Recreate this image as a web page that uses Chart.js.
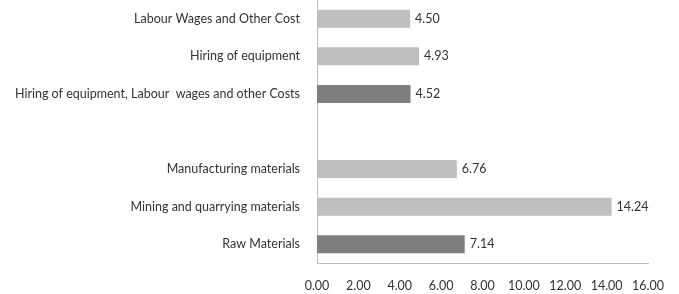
<!DOCTYPE html>
<html>
<head>
<meta charset="utf-8">
<script src="https://cdn.jsdelivr.net/npm/chart.js@4"></script>
<style>
  html, body { margin: 0; padding: 0; background: #fff; }
  #wrap { width: 679px; height: 294px; position: relative; }
</style>
</head>
<body>
<div id="wrap"><canvas id="c"></canvas></div>
<script>
const categories = [
  "Labour Wages and Other Cost",
  "Hiring of equipment",
  "Hiring of equipment, Labour  wages and other Costs",
  "",
  "Manufacturing materials",
  "Mining and quarrying materials",
  "Raw Materials"
];
const values = [4.50, 4.93, 4.52, null, 6.76, 14.24, 7.14];
const barColors = ["#bfbfbf", "#bfbfbf", "#7f7f7f", "#bfbfbf", "#bfbfbf", "#bfbfbf", "#7f7f7f"];
const xTicks = [0, 2, 4, 6, 8, 10, 12, 14, 16];

const valueLabels = {
  id: 'valueLabels',
  afterDatasetsDraw(chart) {
    const ctx = chart.ctx;
    const meta = chart.getDatasetMeta(0);
    ctx.save();
    ctx.font = '12.5px Lato';
    ctx.fillStyle = '#333333';
    ctx.textAlign = 'left';
    ctx.textBaseline = 'middle';
    meta.data.forEach((bar, i) => {
      if (values[i] == null) return;
      ctx.fillText(values[i].toFixed(2), bar.x + 5, bar.y);
    });
    ctx.restore();
  }
};

new Chart(document.getElementById('c'), {
  type: 'bar',
  data: {
    labels: categories,
    datasets: [{
      data: values,
      backgroundColor: barColors,
      borderWidth: 0,
      barPercentage: 0.48,
      categoryPercentage: 1.0
    }]
  },
  options: {
    indexAxis: 'y',
    responsive: true,
    maintainAspectRatio: false,
    animation: false,
    layout: { padding: { top: -2, right: 31, bottom: 0, left: 0 } },
    plugins: { legend: { display: false }, tooltip: { enabled: false } },
    scales: {
      x: {
        min: 0, max: 16,
        afterBuildTicks(scale) { scale.ticks = xTicks.map(v => ({ value: v })); },
        afterFit(scale) { scale.height = 31; },
        grid: { display: false, drawTicks: false },
        border: { display: true, color: '#bfbfbf', width: 1 },
        ticks: {
          padding: 15,
          color: '#333333',
          font: { family: 'Lato', size: 12.5 },
          callback: (v) => Number(v).toFixed(2)
        }
      },
      y: {
        afterFit(scale) {
          scale.width = 317;
          scale.paddingTop = 0;
          scale.paddingBottom = 0;
        },
        grid: { display: false, drawTicks: false },
        border: { display: true, color: '#bfbfbf', width: 1 },
        ticks: {
          padding: 17,
          color: '#333333',
          font: { family: 'Lato', size: 12.5 },
          autoSkip: false
        }
      }
    }
  },
  plugins: [valueLabels]
});
</script>
</body>
</html>
